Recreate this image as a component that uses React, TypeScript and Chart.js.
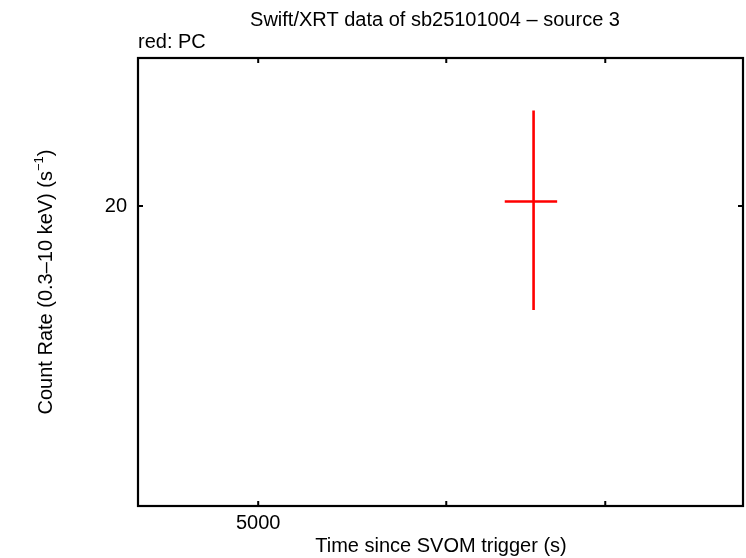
import React, { useEffect, useRef } from 'react';
import { Chart, registerables } from 'chart.js';

Chart.register(...registerables);

const times = [6530];
const timeLo = [6350];
const timeHi = [6681];
const rates = [20.14];
const rateLo = [17.05];
const rateHi = [23.16];
const xTicks = [5000, 6000, 7000, 8000];
const xLabeled = [5000];
const yTicks = [20];
const xRange = [4450, 8000];
const yRange = [12.62, 25.1];

const titleText = 'Swift/XRT data of sb25101004 \u2013 source 3';
const legendText = 'red: PC';
const xTitle = 'Time since SVOM trigger (s)';
const yTitle = 'Count Rate (0.3\u201310 keV) (s';

const FONT = '"Liberation Sans", Arial, sans-serif';
const FS = 20;

const framePlugin = {
  id: 'framePlugin',
  afterDatasetsDraw(chart: any) {
    const { ctx, chartArea: a, scales } = chart;
    const xs = scales.x;
    const ys = scales.y;
    ctx.save();
    // error bars
    ctx.strokeStyle = '#ff0000';
    ctx.lineWidth = 2.6;
    ctx.lineCap = 'butt';
    times.forEach((t, i) => {
      const x = xs.getPixelForValue(t);
      const y = ys.getPixelForValue(rates[i]);
      ctx.beginPath();
      ctx.moveTo(xs.getPixelForValue(timeLo[i]), y);
      ctx.lineTo(xs.getPixelForValue(timeHi[i]), y);
      ctx.moveTo(x, ys.getPixelForValue(rateHi[i]));
      ctx.lineTo(x, ys.getPixelForValue(rateLo[i]));
      ctx.stroke();
    });
    // frame
    ctx.strokeStyle = '#000';
    ctx.lineWidth = 2.2;
    ctx.strokeRect(a.left, a.top, a.right - a.left, a.bottom - a.top);
    // tick marks inside
    ctx.lineWidth = 2;
    const tl = 5;
    ctx.beginPath();
    xTicks.forEach((v) => {
      const x = xs.getPixelForValue(v);
      ctx.moveTo(x, a.bottom);
      ctx.lineTo(x, a.bottom - tl);
      ctx.moveTo(x, a.top);
      ctx.lineTo(x, a.top + tl);
    });
    yTicks.forEach((v) => {
      const y = ys.getPixelForValue(v);
      ctx.moveTo(a.left, y);
      ctx.lineTo(a.left + tl, y);
      ctx.moveTo(a.right, y);
      ctx.lineTo(a.right - tl, y);
    });
    ctx.stroke();
    // texts
    ctx.fillStyle = '#000';
    ctx.font = `${FS}px ${FONT}`;
    ctx.textBaseline = 'middle';
    ctx.textAlign = 'center';
    ctx.fillText(titleText, 435, 20);
    ctx.fillText(xTitle, 441, 546);
    ctx.textAlign = 'left';
    ctx.fillText(legendText, 138, 42);
    // y title rotated with superscript
    ctx.translate(46, 282);
    ctx.rotate(-Math.PI / 2);
    const mainW = ctx.measureText(yTitle).width;
    ctx.font = `13px ${FONT}`;
    const supW = ctx.measureText('\u22121').width;
    ctx.font = `${FS}px ${FONT}`;
    const closeW = ctx.measureText(')').width;
    const total = mainW + supW + closeW;
    let cx = -total / 2;
    ctx.fillText(yTitle, cx, 0);
    cx += mainW;
    ctx.font = `13px ${FONT}`;
    ctx.fillText('\u22121', cx, -7);
    cx += supW;
    ctx.font = `${FS}px ${FONT}`;
    ctx.fillText(')', cx, 0);
    ctx.restore();
  },
};

export default function App() {
  const ref = useRef<HTMLCanvasElement>(null);
  useEffect(() => {
    if (!ref.current) return;
    const chart = new Chart(ref.current, {
      type: 'scatter',
      data: {
        datasets: [
          {
            label: 'PC',
            data: times.map((t, i) => ({ x: t, y: rates[i] })),
            pointRadius: 0,
            borderColor: '#ff0000',
            backgroundColor: '#ff0000',
          },
        ],
      },
      options: {
        animation: false,
        responsive: false,
        maintainAspectRatio: false,
        events: [],
        layout: { padding: { top: 58, right: 3, left: 0, bottom: 0 } },
        plugins: { legend: { display: false }, tooltip: { enabled: false }, title: { display: false } },
        scales: {
          x: {
            type: 'logarithmic',
            min: xRange[0],
            max: xRange[1],
            grid: { display: false, drawTicks: false },
            border: { display: false },
            afterBuildTicks: (s: any) => {
              s.ticks = xTicks.map((v) => ({ value: v }));
            },
            afterFit: (s: any) => {
              s.height = 52;
              s.paddingLeft = 0;
              s.paddingRight = 0;
            },
            ticks: {
              autoSkip: false,
              maxRotation: 0,
              padding: 5,
              color: '#000',
              font: { family: FONT, size: FS },
              callback: (v: any) => (xLabeled.includes(Number(v)) ? String(v) : ''),
            },
          },
          y: {
            type: 'logarithmic',
            min: yRange[0],
            max: yRange[1],
            grid: { display: false, drawTicks: false },
            border: { display: false },
            afterBuildTicks: (s: any) => {
              s.ticks = yTicks.map((v) => ({ value: v }));
            },
            afterFit: (s: any) => {
              s.width = 138;
              s.paddingTop = 0;
              s.paddingBottom = 0;
            },
            ticks: {
              autoSkip: false,
              padding: 11,
              color: '#000',
              font: { family: FONT, size: FS },
              callback: (v: any) => String(v),
            },
          },
        },
      },
      plugins: [framePlugin],
    });
    return () => chart.destroy();
  }, []);
  return (
    <div style={{ position: 'fixed', left: 0, top: 0, width: 746, height: 558, background: '#fff' }}>
      <canvas ref={ref} width={746} height={558} style={{ width: 746, height: 558 }} />
    </div>
  );
}
